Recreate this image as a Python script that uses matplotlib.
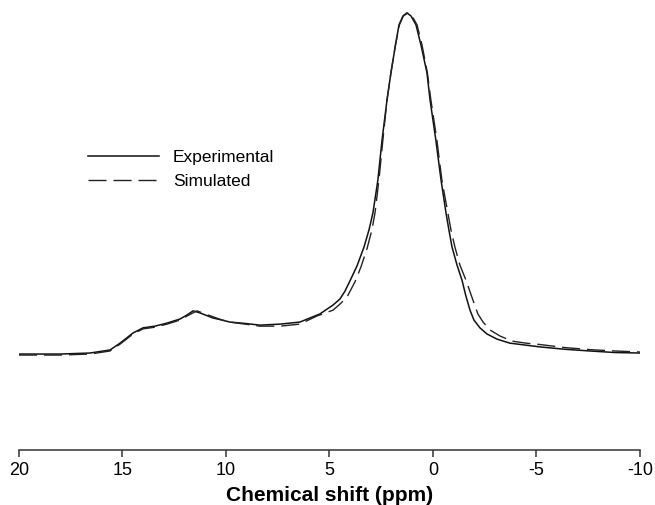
import matplotlib
matplotlib.use("Agg")
import matplotlib.pyplot as plt

plt.rcParams['font.family'] = ['Liberation Sans', 'DejaVu Sans']

# 1H MAS NMR spectrum: chemical shift (ppm) vs. intensity (a.u., peak = 100)
exp_ppm = [20.00, 18.02, 16.57, 15.60, 15.12, 14.49, 14.01, 13.43, 12.85, 12.22,
           11.88, 11.59, 11.26, 10.63, 10.19, 9.81, 9.08, 8.36, 7.39, 6.43,
           5.46, 4.83, 4.49, 4.25, 4.01, 3.67, 3.33, 3.09, 2.90, 2.66,
           2.46, 2.22, 2.03, 1.81, 1.64, 1.45, 1.26, 1.06, 0.82, 0.58,
           0.29, 0.14, -0.14, -0.39, -0.63, -0.77, -0.92, -1.16, -1.40, -1.59,
           -1.79, -1.98, -2.27, -2.61, -3.09, -3.72, -5.17, -6.38, -7.58, -8.79,
           -10.00]
exp_int = [-0.3, -0.3, 0.0, 0.9, 2.9, 5.9, 7.4, 7.9, 8.8, 10.0,
           11.2, 12.4, 11.8, 10.3, 9.7, 9.1, 8.7, 8.2, 8.5, 9.1,
           11.5, 14.1, 15.9, 18.2, 21.2, 25.6, 31.2, 36.2, 41.2, 50.9,
           62.6, 74.4, 82.4, 90.6, 96.5, 99.1, 100.0, 99.1, 96.5, 90.6,
           82.4, 74.4, 62.6, 50.9, 41.2, 36.2, 31.2, 25.9, 21.5, 16.8,
           12.6, 9.7, 7.4, 5.6, 4.1, 2.9, 1.8, 1.1, 0.6, 0.15,
           0.0]

sim_ppm = [20.00, 18.02, 16.57, 15.60, 15.12, 14.49, 14.01, 13.43, 12.85, 12.22,
           11.88, 11.40, 11.01, 10.19, 9.81, 9.08, 8.36, 7.39, 6.43, 5.60,
           4.83, 4.49, 4.15, 3.77, 3.48, 3.19, 2.95, 2.80, 2.61, 2.42,
           2.22, 2.03, 1.81, 1.62, 1.43, 1.21, 1.01, 0.77, 0.53, 0.27,
           0.10, -0.19, -0.43, -0.72, -0.87, -1.06, -1.30, -1.59, -1.93, -2.17,
           -2.42, -2.75, -3.24, -3.82, -4.50, -5.17, -6.38, -7.58, -8.79, -10.00]
sim_int = [-0.6, -0.6, -0.3, 0.6, 2.6, 5.6, 7.1, 7.6, 8.5, 9.7,
           10.9, 12.4, 11.5, 9.7, 9.1, 8.5, 7.9, 7.9, 8.5, 10.9,
           12.6, 14.4, 16.5, 20.9, 25.3, 30.6, 36.2, 41.2, 50.9, 62.6,
           74.4, 82.4, 90.6, 96.5, 99.1, 100.0, 99.1, 96.5, 90.6, 82.4,
           74.4, 62.6, 50.9, 41.2, 36.2, 31.2, 25.9, 21.5, 15.6, 11.5,
           9.1, 6.8, 5.0, 3.5, 2.9, 2.5, 1.6, 1.0, 0.6, 0.3]

xticks = [20, 15, 10, 5, 0, -5, -10]

fig = plt.figure(figsize=(6.55, 5.05), dpi=100)
ax = fig.add_axes([0.029, 0.109, 0.948, 0.891])

ax.plot(exp_ppm, exp_int, color='#111111', lw=1.1, label='Experimental',
        solid_joinstyle='round')
ax.plot(sim_ppm, sim_int, color='#222222', lw=1.0, dashes=(13, 5), label='Simulated')

ax.set_xlim(20, -10)
ax.set_ylim(-28.5, 103.8)
ax.set_xticks(xticks)
ax.set_xticklabels([str(t) for t in xticks], fontsize=13)
ax.set_yticks([])
for side in ('top', 'right', 'left'):
    ax.spines[side].set_visible(False)
ax.spines['bottom'].set_color('#333333')
ax.spines['bottom'].set_linewidth(1.1)
ax.spines['bottom'].set_bounds(20, -10)
ax.tick_params(axis='x', direction='out', length=5, width=1.1, color='#333333', pad=4)
ax.set_xlabel('Chemical shift (ppm)', fontsize=15, fontweight='bold', labelpad=5)
ax.patch.set_visible(False)

ax.legend(loc='upper left', bbox_to_anchor=(88 / 655, 1 - 150 / 505),
          bbox_transform=fig.transFigure, frameon=False, fontsize=12.5,
          handlelength=4.1, handletextpad=0.8, labelspacing=0.52,
          borderpad=0, borderaxespad=0)

fig.savefig('out.png', dpi=100)
